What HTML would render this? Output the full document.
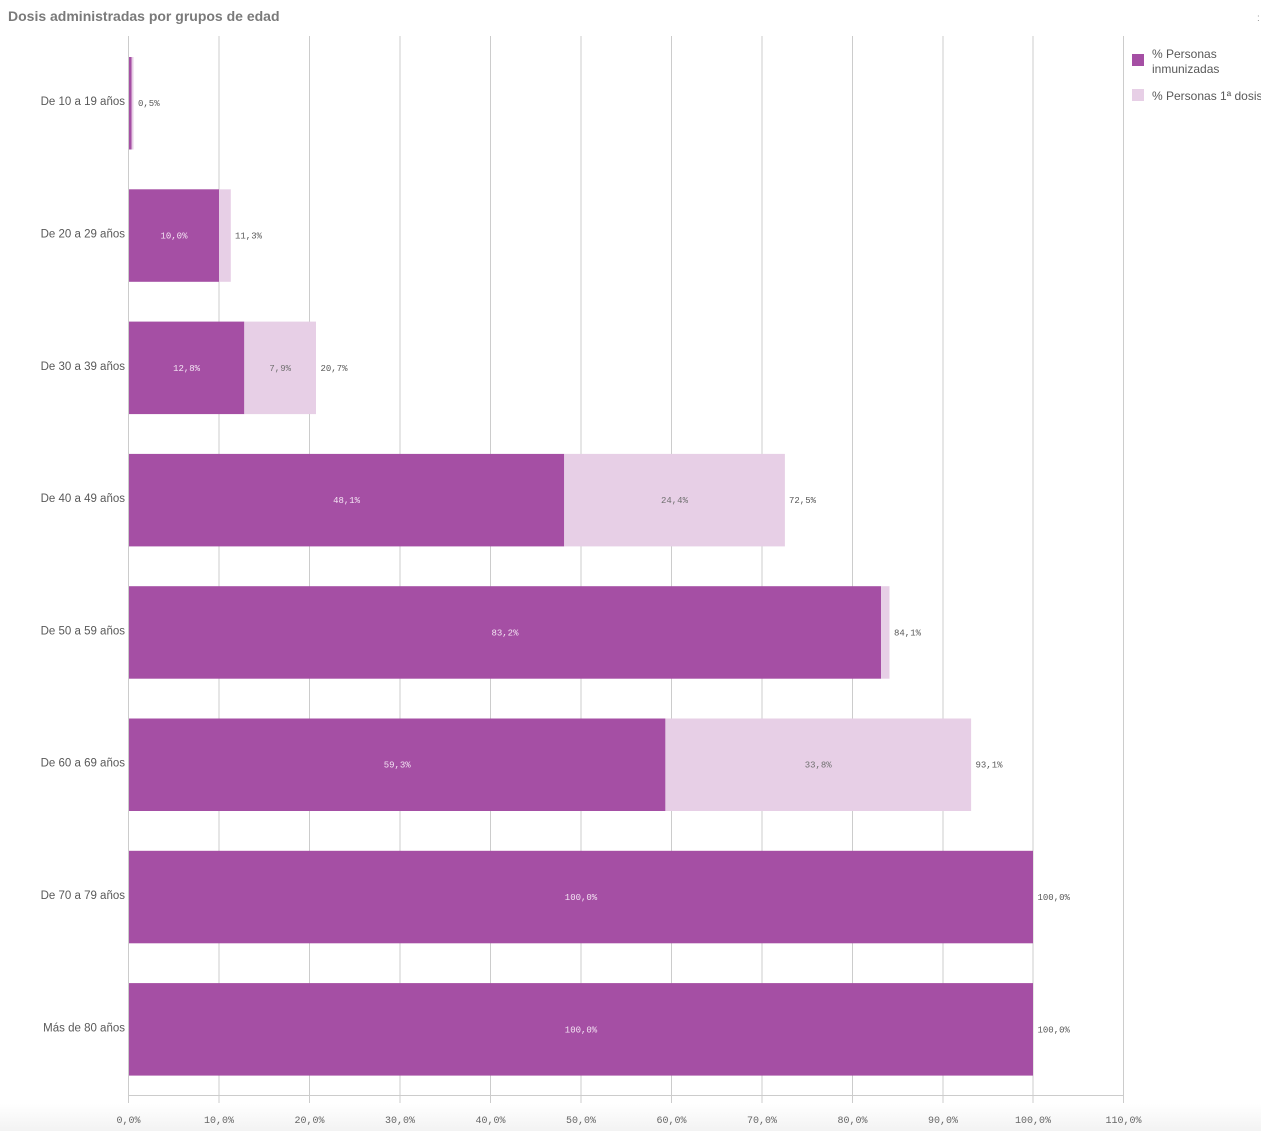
<!DOCTYPE html>
<html><head><meta charset="utf-8"><style>
html,body{margin:0;padding:0;background:#fff;width:1261px;height:1131px;overflow:hidden}
svg{display:block}
.cat{font-family:"Liberation Sans",sans-serif;font-size:11.5px;fill:#595959}
.val{font-family:"Liberation Mono",monospace;font-size:9px}
.tick{font-family:"Liberation Mono",monospace;font-size:10px;fill:#666}
.leg{font-family:"Liberation Sans",sans-serif;font-size:12px;fill:#595959}
</style></head><body>
<svg width="1261" height="1131" xmlns="http://www.w3.org/2000/svg">
<defs><linearGradient id="g" x1="0" y1="0" x2="0" y2="1"><stop offset="0" stop-color="#fff"/><stop offset="1" stop-color="#f3f3f3"/></linearGradient></defs>
<rect x="0" y="1104" width="1261" height="27" fill="url(#g)"/>
<text x="8" y="21" font-family="Liberation Sans, sans-serif" font-size="14" font-weight="bold" fill="#7a7a7a">Dosis administradas por grupos de edad</text>
<text x="1257" y="21" font-family="Liberation Sans, sans-serif" font-size="10" fill="#999">:</text>
<g stroke="#cccccc" stroke-width="1">
<line x1="128.5" y1="36" x2="128.5" y2="1103"/>
<line x1="219" y1="36" x2="219" y2="1103"/>
<line x1="309.5" y1="36" x2="309.5" y2="1103"/>
<line x1="400" y1="36" x2="400" y2="1103"/>
<line x1="490.5" y1="36" x2="490.5" y2="1103"/>
<line x1="581" y1="36" x2="581" y2="1103"/>
<line x1="671.5" y1="36" x2="671.5" y2="1103"/>
<line x1="762" y1="36" x2="762" y2="1103"/>
<line x1="852.5" y1="36" x2="852.5" y2="1103"/>
<line x1="943" y1="36" x2="943" y2="1103"/>
<line x1="1033" y1="36" x2="1033" y2="1103"/>
<line x1="1123.5" y1="36" x2="1123.5" y2="1103"/>
<line x1="128.5" y1="1095.5" x2="1123.5" y2="1095.5"/>
</g>
<g class="tick" text-anchor="middle">
<text x="128.5" y="1123">0,0%</text>
<text x="219" y="1123">10,0%</text>
<text x="309.5" y="1123">20,0%</text>
<text x="400" y="1123">30,0%</text>
<text x="490.5" y="1123">40,0%</text>
<text x="581" y="1123">50,0%</text>
<text x="671.5" y="1123">60,0%</text>
<text x="762" y="1123">70,0%</text>
<text x="852.5" y="1123">80,0%</text>
<text x="943" y="1123">90,0%</text>
<text x="1033" y="1123">100,0%</text>
<text x="1123.5" y="1123">110,0%</text>
</g>
<g>
<rect x="129" y="57" width="2.7" height="92.5" fill="#a54fa4"/>
<rect x="131.7" y="57" width="1.8" height="92.5" fill="#e7cfe6"/>
<rect x="129" y="189.3" width="90" height="92.5" fill="#a54fa4"/>
<rect x="219" y="189.3" width="11.8" height="92.5" fill="#e7cfe6"/>
<rect x="129" y="321.6" width="115.3" height="92.5" fill="#a54fa4"/>
<rect x="244.3" y="321.6" width="71.7" height="92.5" fill="#e7cfe6"/>
<rect x="129" y="453.9" width="435.2" height="92.5" fill="#a54fa4"/>
<rect x="564.2" y="453.9" width="220.7" height="92.5" fill="#e7cfe6"/>
<rect x="129" y="586.2" width="752.1" height="92.5" fill="#a54fa4"/>
<rect x="881.1" y="586.2" width="8.4" height="92.5" fill="#e7cfe6"/>
<rect x="129" y="718.5" width="536.4" height="92.5" fill="#a54fa4"/>
<rect x="665.4" y="718.5" width="305.7" height="92.5" fill="#e7cfe6"/>
<rect x="129" y="850.8" width="904" height="92.5" fill="#a54fa4"/>
<rect x="129" y="983.1" width="904" height="92.5" fill="#a54fa4"/>
</g>
<g class="cat" text-anchor="end">
<text x="125" y="105">De 10 a 19 años</text>
<text x="125" y="237.5">De 20 a 29 años</text>
<text x="125" y="369.8">De 30 a 39 años</text>
<text x="125" y="502.1">De 40 a 49 años</text>
<text x="125" y="634.4">De 50 a 59 años</text>
<text x="125" y="766.7">De 60 a 69 años</text>
<text x="125" y="899">De 70 a 79 años</text>
<text x="125" y="1031.3">Más de 80 años</text>
</g>
<g class="val" fill="#f3e3f3" text-anchor="middle">
<text x="174" y="238.5">10,0%</text>
<text x="186.6" y="370.8">12,8%</text>
<text x="346.6" y="503.1">48,1%</text>
<text x="505" y="635.4">83,2%</text>
<text x="397.2" y="767.7">59,3%</text>
<text x="581" y="900">100,0%</text>
<text x="581" y="1032.3">100,0%</text>
</g>
<g class="val" fill="#707070" text-anchor="middle">
<text x="280.2" y="370.8">7,9%</text>
<text x="674.5" y="503.1">24,4%</text>
<text x="818.2" y="767.7">33,8%</text>
</g>
<g class="val" fill="#595959">
<text x="138" y="106">0,5%</text>
<text x="235" y="238.5">11,3%</text>
<text x="320.5" y="370.8">20,7%</text>
<text x="789" y="503.1">72,5%</text>
<text x="894" y="635.4">84,1%</text>
<text x="975.5" y="767.7">93,1%</text>
<text x="1037.5" y="900">100,0%</text>
<text x="1037.5" y="1032.3">100,0%</text>
</g>
<rect x="1132" y="54" width="12" height="12" fill="#a54fa4"/>
<text class="leg" x="1152" y="58">% Personas</text>
<text class="leg" x="1152" y="73">inmunizadas</text>
<rect x="1132" y="89" width="12" height="12" fill="#e7cfe6"/>
<text class="leg" x="1152" y="100">% Personas 1ª dosis</text>
</svg>
</body></html>
